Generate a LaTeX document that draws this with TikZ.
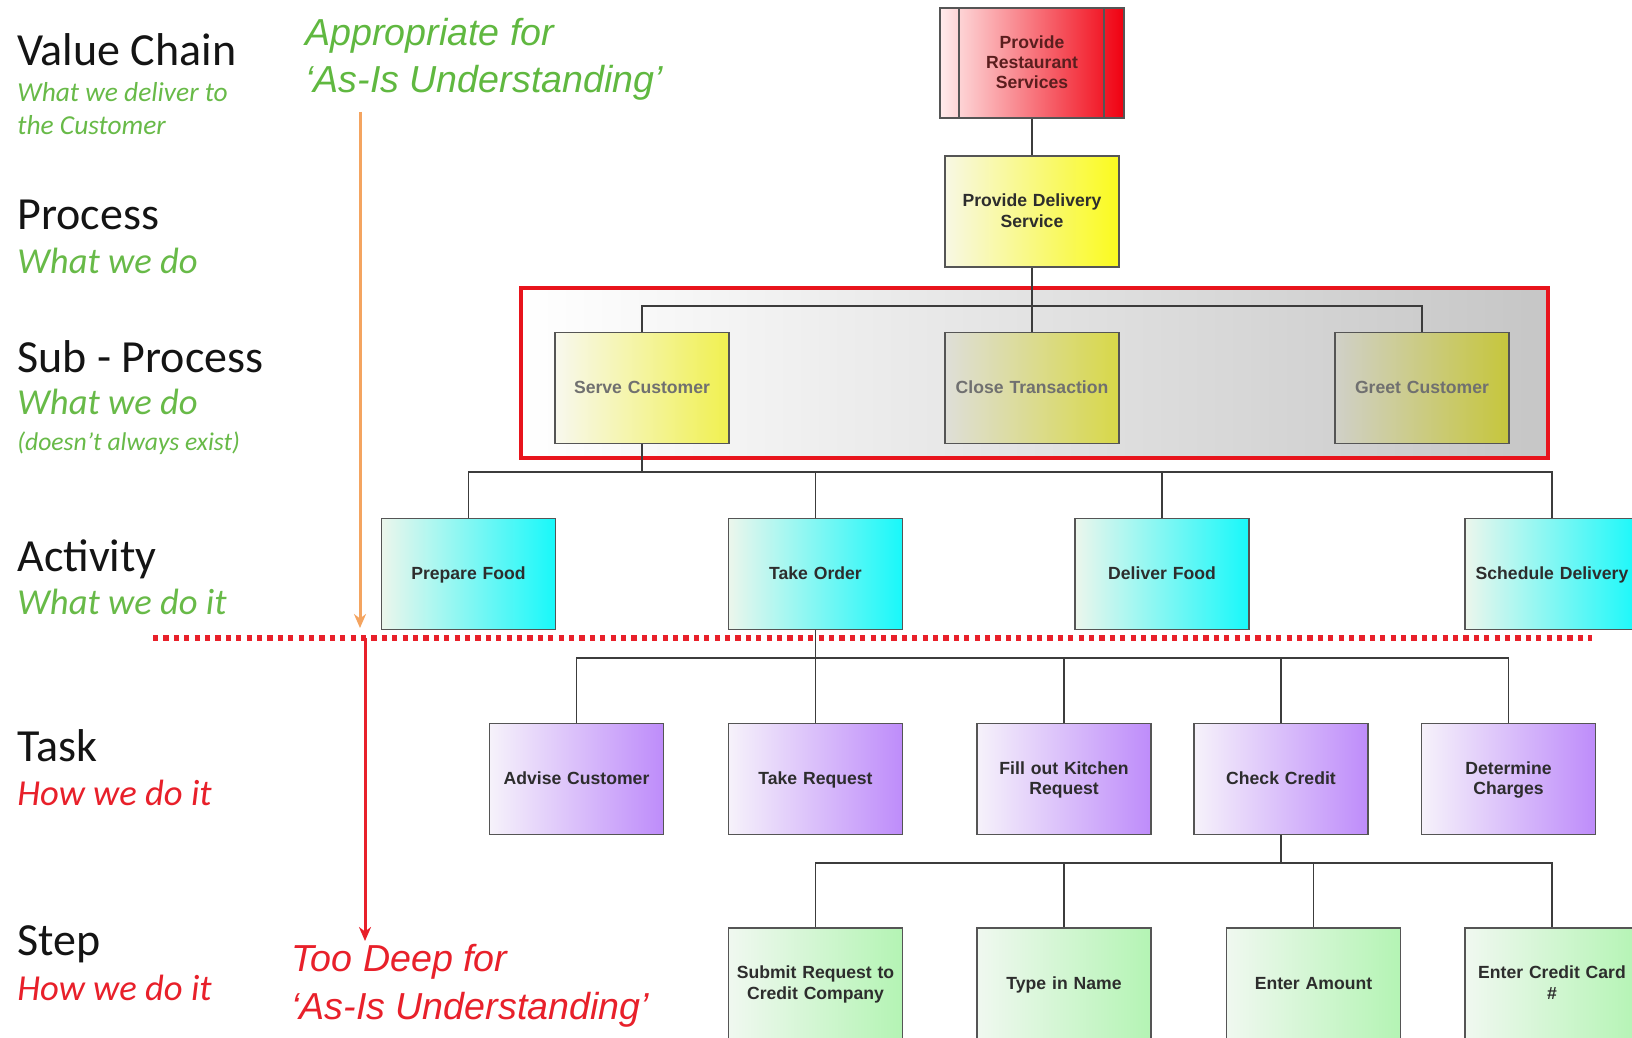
\documentclass[tikz,border=0pt]{standalone}
\usepackage{fontspec}
\setmainfont{Liberation Sans}
\newfontfamily\calfont{Carlito}
\usetikzlibrary{arrows.meta}

\definecolor{lblgreen}{RGB}{104,186,72}
\definecolor{lblred}{RGB}{232,32,42}
\definecolor{annogreen}{RGB}{96,184,64}
\definecolor{arroworange}{RGB}{244,164,96}
\definecolor{framered}{RGB}{232,20,28}
\definecolor{boxline}{RGB}{85,85,85}
\definecolor{wire}{RGB}{60,60,60}
\definecolor{nodetext}{RGB}{45,45,45}
\definecolor{redL}{RGB}{255,236,236}
\definecolor{redR}{RGB}{240,0,16}
\definecolor{yelL}{RGB}{248,248,228}
\definecolor{yelR}{RGB}{250,250,30}
\definecolor{serveL}{RGB}{248,248,238}
\definecolor{serveR}{RGB}{240,240,80}
\definecolor{closeL}{RGB}{222,222,216}
\definecolor{closeR}{RGB}{216,216,72}
\definecolor{greetL}{RGB}{208,208,200}
\definecolor{greetR}{RGB}{198,198,60}
\definecolor{cyanL}{RGB}{236,246,236}
\definecolor{cyanR}{RGB}{24,248,250}
\definecolor{purL}{RGB}{246,242,250}
\definecolor{purR}{RGB}{190,140,250}
\definecolor{grnL}{RGB}{240,248,240}
\definecolor{grnR}{RGB}{180,244,180}
\definecolor{regionR}{RGB}{198,198,198}
\definecolor{subtext}{RGB}{112,112,112}

% strut that balances the box text around the visual middle of the letters
\newcommand\boxstrut{\rule[-2.3pt]{0pt}{10.2pt}}

\begin{document}
\begin{tikzpicture}[x=0.5pt,y=-0.5pt,
  box/.style={draw=boxline, line width=0.8pt, minimum width=87pt, minimum height=55.5pt,
    inner sep=2pt, align=center, text width=82pt, text=nodetext,
    font=\fontsize{8.8}{10.2}\selectfont\bfseries,
    execute at begin node={\boxstrut}, execute at end node={\boxstrut}},
  vcbox/.style={box, minimum width=92pt, minimum height=55pt, left color=redL, right color=redR, text={rgb,255:red,90;green,30;blue,30}},
  procbox/.style={box, left color=yelL, right color=yelR},
  subbox/.style={box, text=subtext},
  actbox/.style={box, left color=cyanL, right color=cyanR},
  taskbox/.style={box, left color=purL, right color=purR},
  stepbox/.style={box, left color=grnL, right color=grnR},
  wireline/.style={draw=wire, line width=0.8pt},
  level/.style={anchor=base west, inner sep=0pt, font=\calfont\fontsize{23}{27}\selectfont, text={rgb,255:red,20;green,20;blue,20}},
  what/.style={anchor=base west, inner sep=0pt, font=\calfont\itshape\fontsize{18.3}{22}\selectfont},
  whatsmall/.style={anchor=base west, inner sep=0pt, font=\calfont\itshape\fontsize{13.7}{16}\selectfont, text=lblgreen},
  anno/.style={anchor=base west, inner sep=0pt, font=\itshape\fontsize{18.8}{22}\selectfont}
]
\useasboundingbox (0,0) rectangle (1632,1038);
\clip (0,0) rectangle (1632,1038);
\fill[white] (0,0) rectangle (1632,1038);

% sub-process band with its red frame
\node[draw=framered, line width=2pt, left color=white, right color=regionR,
  minimum width=513.5pt, minimum height=85pt, inner sep=0pt] (band) at (1034.5,373) {};

% boundary between analysis depths
\draw[draw=lblred, line width=2.6pt, dash pattern=on 2.6pt off 2.6pt] (153,638) -- (1592,638);

% hierarchy nodes
\node[vcbox] (vc) at (1032,63) {Provide\\Restaurant\\Services};
\draw[boxline, line width=0.8pt] ([xshift=10pt]vc.north west) -- ([xshift=10pt]vc.south west);
\draw[boxline, line width=0.8pt] ([xshift=-10.5pt]vc.north east) -- ([xshift=-10.5pt]vc.south east);

\node[procbox] (pds) at (1032,211.5) {Provide Delivery\\Service};

\node[subbox, left color=serveL, right color=serveR] (serve) at (642,388) {Serve Customer};
\node[subbox, left color=closeL, right color=closeR] (close) at (1032,388) {Close Transaction};
\node[subbox, left color=greetL, right color=greetR] (greet) at (1422,388) {Greet Customer};

\node[actbox] (prep) at (468.5,574) {Prepare Food};
\node[actbox] (order) at (815.5,574) {Take Order};
\node[actbox] (deliver) at (1162,574) {Deliver Food};
\node[actbox] (sched) at (1552,574) {Schedule Delivery};

\node[taskbox] (advise) at (576.5,779) {Advise Customer};
\node[taskbox] (request) at (815.5,779) {Take Request};
\node[taskbox] (kitchen) at (1064,779) {Fill out Kitchen\\Request};
\node[taskbox] (credit) at (1281,779) {Check Credit};
\node[taskbox] (charges) at (1508.5,779) {Determine\\Charges};

\node[stepbox] (submit) at (815.5,983.5) {Submit Request to\\Credit Company};
\node[stepbox] (name) at (1064,983.5) {Type in Name};
\node[stepbox] (amount) at (1313.5,983.5) {Enter Amount};
\node[stepbox] (card) at (1552,983.5) {Enter Credit Card\\\#};

% bus levels
\coordinate (subbus) at (0,306);
\coordinate (actbus) at (0,472);
\coordinate (taskbus) at (0,658);
\coordinate (stepbus) at (0,863);

% connectors
\draw[wireline] (vc.south) -- (pds.north);
\draw[wireline] (pds.south) -- (close.north);
\draw[wireline] (serve.north) -- (serve.north |- subbus) -- (greet.north |- subbus) -- (greet.north);

\draw[wireline] (serve.south) -- (serve.south |- actbus);
\draw[wireline] (prep.north) -- (prep.north |- actbus) -- (sched.north |- actbus) -- (sched.north);
\draw[wireline] (order.north) -- (order.north |- actbus);
\draw[wireline] (deliver.north) -- (deliver.north |- actbus);

\draw[wireline] (order.south) -- (request.north);
\draw[wireline] (advise.north) -- (advise.north |- taskbus) -- (charges.north |- taskbus) -- (charges.north);
\draw[wireline] (kitchen.north) -- (kitchen.north |- taskbus);
\draw[wireline] (credit.north) -- (credit.north |- taskbus);

\draw[wireline] (credit.south) -- (credit.south |- stepbus);
\draw[wireline] (submit.north) -- (submit.north |- stepbus) -- (card.north |- stepbus) -- (card.north);
\draw[wireline] (name.north) -- (name.north |- stepbus);
\draw[wireline] (amount.north) -- (amount.north |- stepbus);

% level labels
\node[level] (lvc) at (17,66) {Value Chain};
\node[whatsmall] (lvcw1) at (17,102) {What we deliver to};
\node[whatsmall] (lvcw2) at (17,134) {the Customer};
\node[level] (lpr) at (17,229) {Process};
\node[what, text=lblgreen] (lprw) at (17,273) {What we do};
\node[level] (lsp) at (17,372) {Sub - Process};
\node[what, text=lblgreen] (lspw) at (17,414) {What we do};
\node[whatsmall, font=\calfont\itshape\fontsize{12.8}{15}\selectfont] (lspx) at (17,450) {(doesn’t always exist)};
\node[level] (lac) at (17,571) {Activity};
\node[what, text=lblgreen] (lacw) at (17,614) {What we do it};
\node[level] (lta) at (17,761) {Task};
\node[what, text=lblred] (ltaw) at (17,805) {How we do it};
\node[level] (lst) at (17,955) {Step};
\node[what, text=lblred] (lstw) at (17,1000) {How we do it};

% depth annotations
\node[anno, text=annogreen] (ok1) at (305,46) {Appropriate for};
\node[anno, text=annogreen] (ok2) at (305,93) {‘As-Is Understanding’};
\coordinate (okstart) at (360,112);
\coordinate (okend) at (360,628);
\draw[draw=arroworange, line width=1.5pt, -{Stealth[length=7pt,width=6pt]}] (okstart) -- (okend);

\coordinate (deepstart) at (365,638);
\coordinate (deepend) at (365,941);
\draw[draw=lblred, line width=1.5pt, -{Stealth[length=7pt,width=6pt]}] (deepstart) -- (deepend);
\node[anno, text=lblred] (deep1) at (291,971) {Too Deep for};
\node[anno, text=lblred] (deep2) at (291,1019) {‘As-Is Understanding’};
\end{tikzpicture}
\end{document}
